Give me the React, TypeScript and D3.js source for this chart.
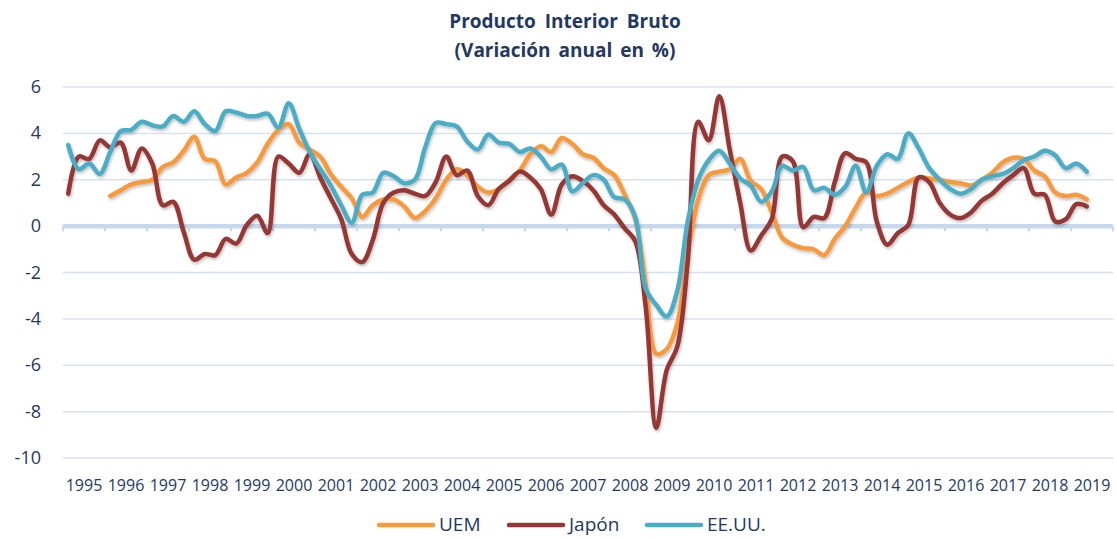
import React from 'react';
import * as d3 from 'd3';

const W = 1117;
const H = 539;

const yearLabels = ['1995','1996','1997','1998','1999','2000','2001','2002','2003','2004','2005','2006','2007','2008','2009','2010','2011','2012','2013','2014','2015','2016','2017','2018','2019'];
const yTicks = [-10, -8, -6, -4, -2, 0, 2, 4, 6];

// Quarterly data 1995Q1 - 2019Q2
const uem: (number | null)[] = [
  null, null, null, null,
  1.3, 1.55, 1.8, 1.9, 2.0, 2.55, 2.75, 3.25, 3.85, 2.9, 2.8, 1.8,
  2.1, 2.3, 2.75, 3.55, 4.15, 4.4, 3.6, 3.3, 3.0, 2.25, 1.7, 1.2,
  0.4, 0.9, 1.15, 1.15, 0.85, 0.35, 0.65, 1.2, 2.0, 2.45, 2.2, 1.7,
  1.45, 1.6, 2.0, 2.4, 3.1, 3.45, 3.2, 3.8, 3.55, 3.1, 2.95, 2.5,
  2.2, 1.35, 0.3, -2.5, -5.5, -5.3, -4.2, -1.2, 1.15, 2.2, 2.35, 2.45,
  2.9, 1.95, 1.6, 0.6, -0.5, -0.8, -0.95, -1.0, -1.25, -0.55, 0.0, 0.8,
  1.45, 1.3, 1.4, 1.65, 1.9, 2.1, 2.05, 2.0, 1.9, 1.85, 1.75, 2.0,
  2.3, 2.75, 2.95, 2.9, 2.4, 2.15, 1.45, 1.3, 1.35, 1.15,
];

const japon: number[] = [
  1.4, 3.0, 2.9, 3.7, 3.4, 3.6, 2.4, 3.35, 2.7, 0.9, 1.05, -0.25,
  -1.45, -1.2, -1.25, -0.55, -0.75, 0.05, 0.45, -0.3, 3.0, 2.7, 2.3, 3.1,
  2.1, 1.2, 0.3, -1.2, -1.55, -0.6, 1.0, 1.45, 1.55, 1.4, 1.3, 1.9,
  3.0, 2.2, 2.4, 1.3, 0.9, 1.6, 1.95, 2.35, 2.1, 1.6, 0.5, 1.8,
  2.15, 1.95, 1.55, 0.9, 0.5, -0.1, -0.65, -3.5, -8.7, -6.2, -5.2, -1.5,
  4.5, 3.7, 5.6, 3.3, 1.0, -1.05, -0.4, 0.3, 3.0, 2.8, -0.05, 0.4,
  0.35, 1.9, 3.15, 2.9, 2.75, 0.2, -0.8, -0.3, 0.05, 2.1, 1.9, 1.0,
  0.5, 0.35, 0.6, 1.1, 1.4, 1.85, 2.2, 2.5, 1.4, 1.35, 0.2, 0.3,
  0.95, 0.85,
];

const eeuu: number[] = [
  3.5, 2.45, 2.7, 2.25, 3.2, 4.1, 4.15, 4.5, 4.35, 4.3, 4.75, 4.5,
  4.95, 4.4, 4.1, 4.95, 4.9, 4.75, 4.75, 4.85, 4.25, 5.3, 4.2, 3.2,
  2.45, 1.75, 0.9, 0.15, 1.35, 1.45, 2.3, 2.15, 1.85, 2.0, 3.4, 4.45,
  4.4, 4.3, 3.65, 3.3, 3.95, 3.6, 3.55, 3.2, 3.35, 3.0, 2.45, 2.65,
  1.5, 1.85, 2.2, 2.0, 1.25, 1.15, 0.4, -2.7, -3.4, -3.9, -2.8, 0.2,
  2.0, 2.85, 3.25, 2.7, 2.05, 1.75, 1.05, 1.5, 2.6, 2.4, 2.55, 1.55,
  1.65, 1.35, 1.7, 2.6, 1.45, 2.6, 3.1, 2.9, 4.0, 3.35, 2.5, 2.0,
  1.6, 1.4, 1.6, 2.0, 2.15, 2.25, 2.5, 2.85, 3.0, 3.25, 3.05, 2.5,
  2.7, 2.35,
];

const seriesNames = ['UEM', 'Japón', 'EE.UU.'];
const seriesColors = ['#F79A3E', '#953734', '#4BACC6'];

const FONT = "'Open Sans', 'Liberation Sans', sans-serif";
const TEXT = '#1F3864';

export default function App() {
  const x = d3.scaleLinear().domain([0, 100]).range([63, 1113]);
  const y = d3.scaleLinear().domain([-10, 6]).range([458, 87]);

  const line = d3
    .line<number | null>()
    .defined((d) => d !== null)
    .x((_, i) => x(i + 0.5))
    .y((d) => y(d as number))
    .curve(d3.curveCatmullRom.alpha(0.5));

  const data = [uem, japon, eeuu];
  const tickPositions = d3.range(0, 101, 4);

  const legendX = [379, 509, 647];

  return (
    <svg
      width={W}
      height={H}
      style={{ position: 'absolute', left: 0, top: 0, background: '#fff' }}
      fontFamily={FONT}
    >
      <defs>
        <filter id="shadow" x="-5%" y="-5%" width="110%" height="120%">
          <feDropShadow dx="1" dy="2" stdDeviation="1.5" floodColor="#000" floodOpacity="0.25" />
        </filter>
      </defs>
      <text x={565} y={28} textAnchor="middle" fontSize={19} fontWeight="bold" fill={TEXT} wordSpacing="4">
        Producto Interior Bruto
      </text>
      <text x={565} y={57} textAnchor="middle" fontSize={19} fontWeight="bold" fill={TEXT} wordSpacing="3">
        (Variación anual en %)
      </text>

      {yTicks.map((t) => (
        <g key={t}>
          {t !== 0 && (
            <line x1={x(0)} x2={x(100)} y1={y(t)} y2={y(t)} stroke="#D6E2F1" strokeWidth={1.5} />
          )}
          <text x={41} y={y(t) + 6} textAnchor="end" fontSize={18} fill={TEXT}>
            {t}
          </text>
        </g>
      ))}

      {/* zero axis */}
      {tickPositions.map((q) => (
        <line key={q} x1={x(q)} x2={x(q)} y1={y(0)} y2={y(0) + 5} stroke="#C5D8EE" strokeWidth={2} />
      ))}
      <line x1={x(0)} x2={x(100)} y1={y(0)} y2={y(0)} stroke="#C5D8EE" strokeWidth={4.5} />

      {yearLabels.map((lbl, k) => (
        <text key={lbl} x={x(4 * k + 2)} y={491} textAnchor="middle" fontSize={16} fill={TEXT}>
          {lbl}
        </text>
      ))}

      <g filter="url(#shadow)">
        {data.map((s, si) => (
          <path
            key={si}
            d={line(s) || ''}
            fill="none"
            stroke={seriesColors[si]}
            strokeWidth={4.5}
            strokeLinejoin="round"
            strokeLinecap="round"
          />
        ))}
      </g>

      {seriesNames.map((n, si) => (
        <g key={n}>
          <line
            x1={legendX[si]}
            x2={legendX[si] + 54}
            y1={525}
            y2={525}
            stroke={seriesColors[si]}
            strokeWidth={4.5}
            strokeLinecap="round"
          />
          <text x={legendX[si] + 60} y={531} fontSize={19} fill={TEXT}>
            {n}
          </text>
        </g>
      ))}
    </svg>
  );
}
